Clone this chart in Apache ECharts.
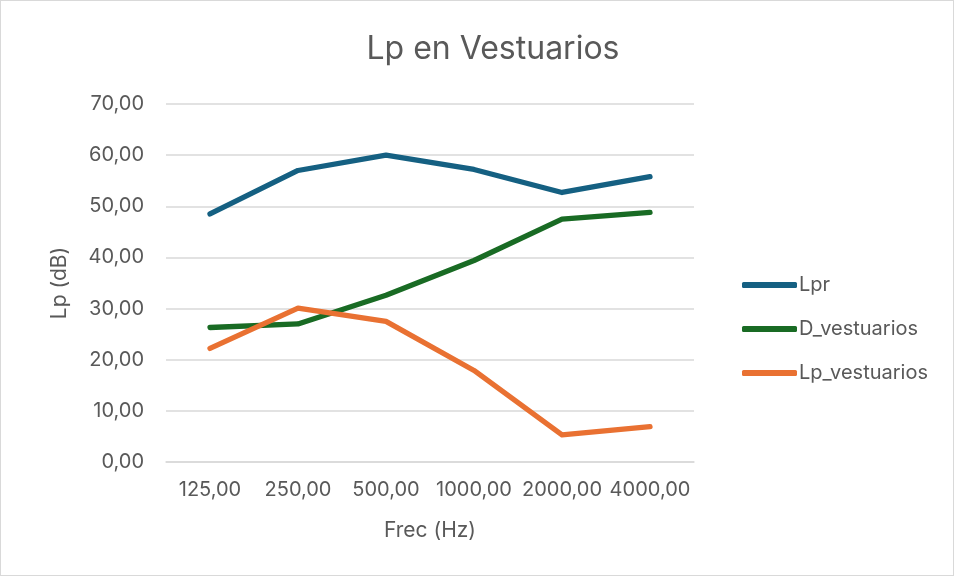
<!DOCTYPE html>
<html>
<head>
<meta charset="utf-8">
<script src="https://cdn.jsdelivr.net/npm/echarts@6/dist/echarts.min.js"></script>
<style>
  html, body { margin: 0; padding: 0; background: #fff; }
  #chartArea { width: 952px; height: 574px; border: 1px solid #d9d9d9; }
</style>
</head>
<body>
<div id="chartArea"></div>
<script>
// datos
var frecuencias = ['125,00', '250,00', '500,00', '1000,00', '2000,00', '4000,00'];
var lpr = [48.5, 57.0, 60.0, 57.2, 52.7, 55.8];
var dVestuarios = [26.3, 27.0, 32.6, 39.4, 47.5, 48.8];
var lpVestuarios = [22.2, 30.1, 27.5, 17.9, 5.3, 6.9];
var yTicks = [0, 70, 10];

var colorList = ['#156082', '#196B24', '#E97132'];
var textColor = '#595959';
var fontName = 'Inter, Roboto, sans-serif';

function lineSerie(name, data, color) {
    return {
        name: name,
        type: 'line',
        data: data,
        symbol: 'none',
        showSymbol: false,
        lineStyle: { width: 5.3, color: color, cap: 'round', join: 'round' },
        itemStyle: { color: color }
    };
}

var chartArea = document.getElementById('chartArea');
if (null != chartArea) {
    var mainChart = echarts.init(chartArea);
    var option = {
        animation: false,
        textStyle: { fontFamily: fontName },
        title: {
            text: 'Lp en Vestuarios',
            left: 487,
            textAlign: 'center',
            top: 27,
            textStyle: { color: textColor, fontSize: 32, fontWeight: 'normal', fontFamily: fontName }
        },
        legend: {
            orient: 'vertical',
            left: 736,
            top: 269,
            itemGap: 24,
            itemWidth: 55,
            itemHeight: 6,
            icon: 'roundRect',
            textStyle: { color: textColor, fontSize: 20, padding: [0, 0, 0, -3] },
            data: ['Lpr', 'D_vestuarios', 'Lp_vestuarios']
        },
        grid: { left: 165, right: 259, top: 103, bottom: 113, containLabel: false },
        xAxis: {
            type: 'category',
            data: frecuencias,
            boundaryGap: true,
            name: 'Frec (Hz)',
            nameLocation: 'middle',
            nameGap: 58,
            nameTextStyle: { color: textColor, fontSize: 21 },
            axisLine: { show: true, lineStyle: { color: '#d9d9d9', width: 1.5 } },
            axisTick: { show: false },
            axisLabel: { color: textColor, fontSize: 20, margin: 18, interval: 0 }
        },
        yAxis: {
            type: 'value',
            min: yTicks[0],
            max: yTicks[1],
            interval: yTicks[2],
            name: 'Lp (dB)',
            nameLocation: 'middle',
            nameGap: 96,
            nameTextStyle: { color: textColor, fontSize: 21 },
            axisLine: { show: false },
            axisTick: { show: false },
            axisLabel: {
                color: textColor,
                fontSize: 20,
                margin: 22,
                formatter: function (v) { return v.toFixed(2).replace('.', ','); }
            },
            splitLine: { lineStyle: { color: '#d9d9d9', width: 1.5 } }
        },
        series: [
            lineSerie('Lpr', lpr, colorList[0]),
            lineSerie('D_vestuarios', dVestuarios, colorList[1]),
            lineSerie('Lp_vestuarios', lpVestuarios, colorList[2])
        ]
    };
    mainChart.setOption(option);
}
</script>
</body>
</html>
